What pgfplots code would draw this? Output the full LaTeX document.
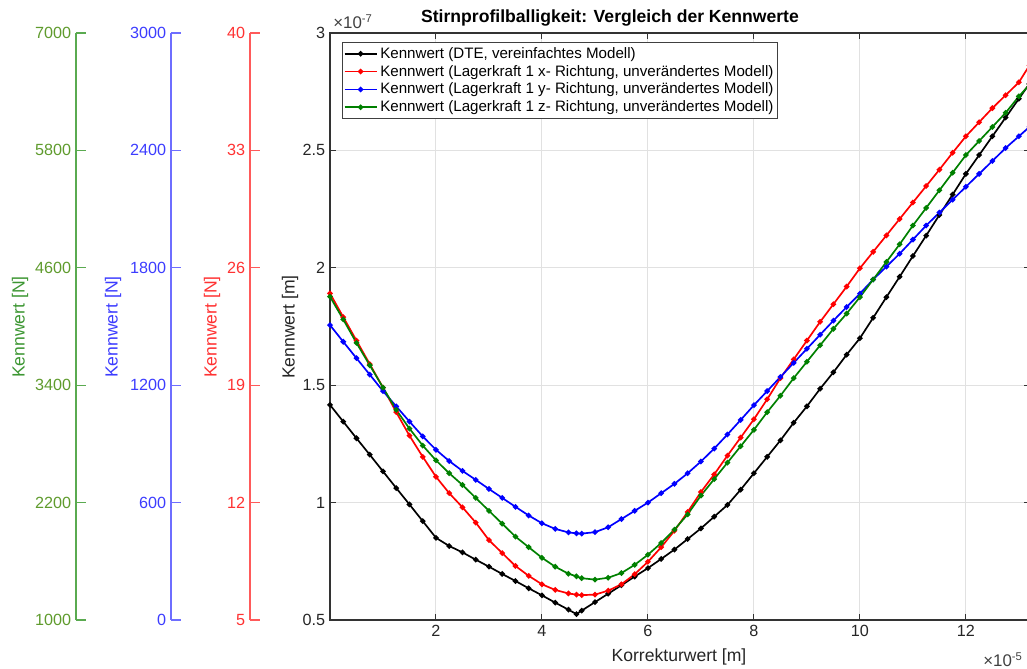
\documentclass[border=0pt]{standalone}
\usepackage{fontspec}
\setmainfont{Liberation Sans}
\usepackage{pgfplots}
\usepackage{pgfplotstable}
\pgfplotsset{compat=1.18}

\newdimen\px \px=0.025cm

\definecolor{axgreen}{RGB}{90,170,80}
\definecolor{axblue}{RGB}{110,110,255}
\definecolor{axred}{RGB}{255,90,90}
\definecolor{txtgreen}{RGB}{95,155,45}
\definecolor{txtblue}{RGB}{60,60,255}
\definecolor{txtred}{RGB}{255,50,50}
\definecolor{lblgreen}{RGB}{60,150,50}
\definecolor{plotgreen}{RGB}{0,128,0}
\definecolor{gridgray}{RGB}{225,225,225}

% x in 1e-5 m, values in 1e-7 m
\pgfplotstableread{
x      k      r      b      g
0      1.416  1.891  1.756  1.877
0.25   1.345  1.790  1.685  1.780
0.5    1.274  1.690  1.615  1.680
0.75   1.204  1.590  1.545  1.585
1.0    1.133  1.490  1.475  1.490
1.25   1.062  1.385  1.410  1.395
1.5    0.992  1.285  1.345  1.315
1.75   0.921  1.195  1.282  1.243
2.0    0.850  1.110  1.225  1.180
2.25   0.815  1.040  1.177  1.125
2.5    0.788  0.980  1.135  1.075
2.75   0.757  0.915  1.097  1.020
3.0    0.727  0.840  1.058  0.965
3.25   0.696  0.785  1.020  0.910
3.5    0.666  0.730  0.982  0.855
3.75   0.635  0.688  0.945  0.810
4.0    0.605  0.652  0.912  0.765
4.25   0.574  0.628  0.888  0.727
4.5    0.544  0.613  0.873  0.697
4.65   0.525  0.608  0.869  0.686
4.75   0.540  0.606  0.868  0.678
5.0    0.576  0.608  0.874  0.672
5.25   0.612  0.625  0.895  0.680
5.5    0.648  0.652  0.930  0.700
5.75   0.685  0.695  0.965  0.735
6.0    0.721  0.748  1.000  0.778
6.25   0.760  0.810  1.040  0.828
6.5    0.800  0.880  1.080  0.885
6.75   0.845  0.960  1.125  0.950
7.0    0.890  1.045  1.175  1.030
7.25   0.940  1.120  1.230  1.100
7.5    0.990  1.200  1.290  1.170
7.75   1.055  1.277  1.352  1.240
8.0    1.125  1.355  1.415  1.310
8.25   1.195  1.440  1.475  1.385
8.5    1.265  1.530  1.535  1.455
8.75   1.340  1.610  1.595  1.530
9.0    1.410  1.690  1.655  1.600
9.25   1.485  1.770  1.715  1.670
9.5    1.555  1.845  1.775  1.740
9.75   1.630  1.920  1.833  1.805
10.0   1.700  1.998  1.890  1.875
10.25  1.787  2.068  1.950  1.950
10.5   1.875  2.138  2.005  2.025
10.75  1.962  2.208  2.060  2.100
11.0   2.050  2.278  2.120  2.180
11.25  2.137  2.348  2.180  2.255
11.5   2.225  2.418  2.235  2.330
11.75  2.312  2.490  2.290  2.405
12.0   2.400  2.560  2.345  2.480
12.25  2.480  2.620  2.400  2.540
12.5   2.560  2.680  2.455  2.600
12.75  2.640  2.735  2.510  2.660
13.0   2.720  2.790  2.560  2.730
13.2   2.784  2.862  2.600  2.780
}\datatable

\pgfplotsset{
  sideaxis/.style n args={3}{
    at={(#1\px,49\px)}, anchor=south west, scale only axis,
    width=20\px, height=587\px, hide x axis, axis y line*=left,
    xmin=0, xmax=1, major tick length=10\px, tick align=inside,
    scaled y ticks=false,
    y axis line style={draw=#2, line width=0.8pt},
    tick style={draw=#2, line width=0.8pt},
    yticklabel style={text=#3, font=\fontsize{11.5}{13}\selectfont},
    /pgf/number format/assume math mode=true,
    /pgf/number format/1000 sep={},
  }
}

\begin{document}
\begin{tikzpicture}
\useasboundingbox (0,0) rectangle (1027\px,669\px);

\begin{axis}[sideaxis={76}{axgreen}{txtgreen}, ymin=1000, ymax=7000, ytick={1000,2200,...,7000}]
\end{axis}
\begin{axis}[sideaxis={171}{axblue}{txtblue}, ymin=0, ymax=3000, ytick={0,600,...,3000}]
\end{axis}
\begin{axis}[sideaxis={250}{axred}{txtred}, ymin=5, ymax=40, ytick={5,12,...,40}]
\end{axis}

\begin{axis}[
  at={(330\px,49\px)}, anchor=south west, scale only axis,
  width=700\px, height=587\px,
  xmin=0, xmax=13.21, ymin=0.5, ymax=3,
  xtick={2,4,...,12}, ytick={0.5,1,...,3},
  scaled x ticks=false, scaled y ticks=false,
  tick align=inside, major tick length=6\px,
  grid=major, grid style={draw=gridgray, line width=0.7pt},
  axis line style={draw=black!80, line width=1pt},
  tick style={draw=black!80, line width=0.7pt},
  tick label style={text=black!85, font=\fontsize{11.5}{13}\selectfont},
  /pgf/number format/assume math mode=true,
  legend style={at={(axis description cs:0.017,0.985)}, anchor=north west,
    draw=black!75, line width=0.7pt, fill=white,
    font=\fontsize{10.75}{12}\selectfont, inner xsep=1pt, inner ysep=1.5pt,
    cells={anchor=west}, row sep=-0.6pt},
  legend image code/.code={\draw[mark repeat=2,mark phase=2,#1]
    plot coordinates {(0pt,0pt) (16\px,0pt) (32\px,0pt)};},
  every axis plot/.append style={line width=1.2pt, mark=*, mark size=1.3pt},
]
\addplot[black, mark options={fill=black}] table[x=x, y=k] {\datatable};
\addplot[red, mark options={fill=red}] table[x=x, y=r] {\datatable};
\addplot[blue, mark options={fill=blue}] table[x=x, y=b] {\datatable};
\addplot[plotgreen, mark options={fill=plotgreen}] table[x=x, y=g] {\datatable};
\legend{{Kennwert (DTE, vereinfachtes Modell)},
  {Kennwert (Lagerkraft 1 x- Richtung, unverändertes Modell)},
  {Kennwert (Lagerkraft 1 y- Richtung, unverändertes Modell)},
  {Kennwert (Lagerkraft 1 z- Richtung, unverändertes Modell)}}
\end{axis}

\node[font=\bfseries\fontsize{12.5}{14}\selectfont] at (610\px,651\px)
  {Stirnprofilballigkeit: Vergleich der Kennwerte};
\node[anchor=west, text=black!75, font=\fontsize{12}{14}\selectfont, inner sep=0pt]
  at (333\px,647\px) {×10\textsuperscript{-7}};
\node[anchor=west, text=black!75, font=\fontsize{12}{14}\selectfont, inner sep=0pt]
  at (983\px,9\px) {×10\textsuperscript{-5}};
\node[rotate=90, text=black!85, font=\fontsize{12.5}{14}\selectfont] at (290\px,342\px)
  {Kennwert [m]};
\node[text=black!85, font=\fontsize{12.5}{14}\selectfont] at (679\px,12\px)
  {Korrekturwert [m]};
\node[rotate=90, text=lblgreen, font=\fontsize{12.5}{14}\selectfont] at (20\px,342\px)
  {Kennwert [N]};
\node[rotate=90, text=txtblue, font=\fontsize{12.5}{14}\selectfont] at (113\px,342\px)
  {Kennwert [N]};
\node[rotate=90, text=txtred, font=\fontsize{12.5}{14}\selectfont] at (212\px,342\px)
  {Kennwert [N]};
\end{tikzpicture}
\end{document}
